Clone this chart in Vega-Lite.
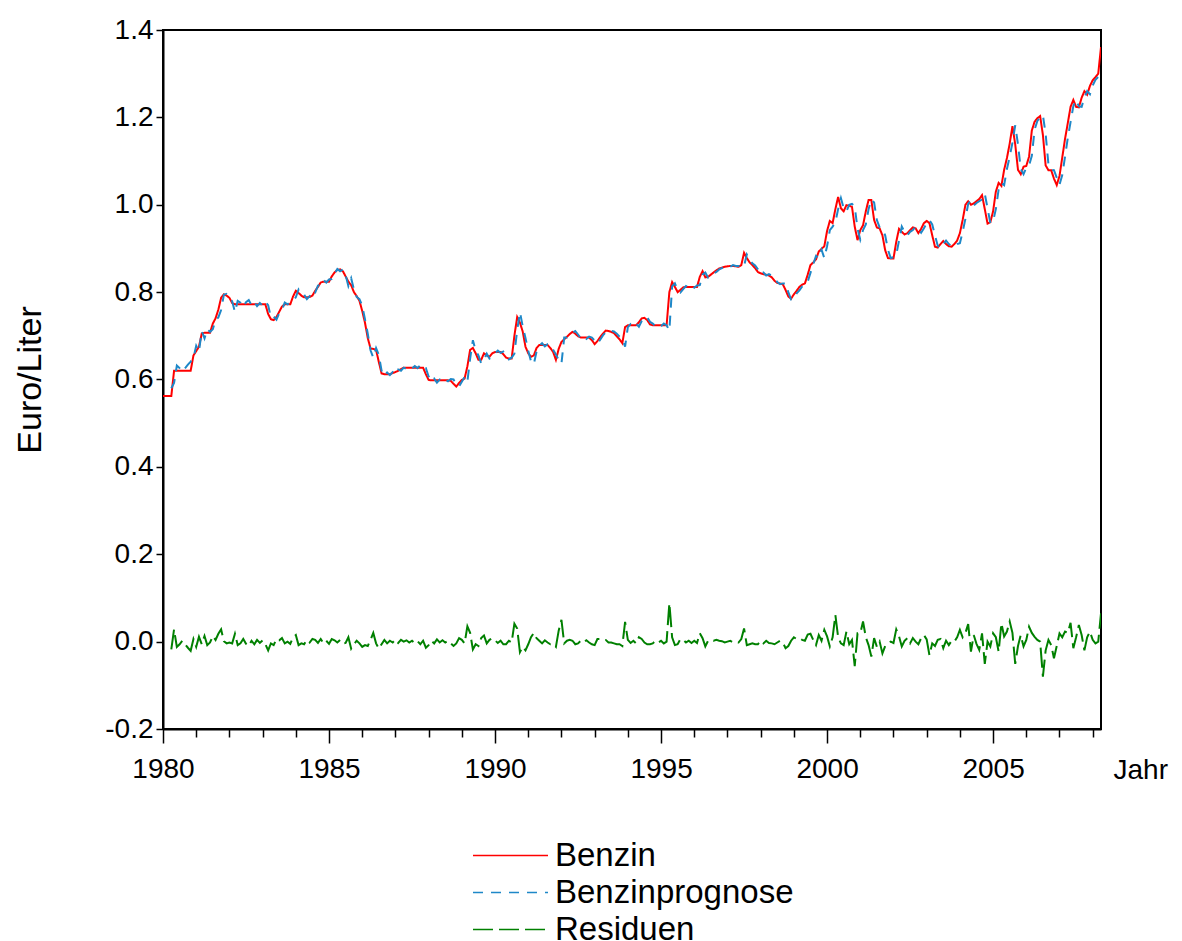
{
"$schema": "https://vega.github.io/schema/vega-lite/v6.json",
"width": 938, "height": 699,
"autosize": {"type": "none"},
"padding": {"left": 163, "top": 30, "right": 81, "bottom": 212},
"background": "white",
"config": {
 "font": "Liberation Sans",
 "view": {"stroke": "black", "strokeWidth": 2},
 "axis": {"grid": false, "domainColor": "black", "domainWidth": 2, "tickColor": "black", "labelColor": "black", "titleColor": "black", "labelFont": "Liberation Sans", "titleFont": "Liberation Sans", "labelFontSize": 28, "titleFontSize": 28, "titleFontWeight": "normal"}
},
"data": {"values": [
{"t":1980.000,"Benzin":0.562},
{"t":1980.083,"Benzin":0.562},
{"t":1980.167,"Benzin":0.562},
{"t":1980.250,"Benzin":0.562,"Benzinprognose":0.580,"Residuen":-0.018},
{"t":1980.333,"Benzin":0.620,"Benzinprognose":0.592,"Residuen":0.028},
{"t":1980.417,"Benzin":0.620,"Benzinprognose":0.632,"Residuen":-0.012},
{"t":1980.500,"Benzin":0.620,"Benzinprognose":0.626,"Residuen":-0.006},
{"t":1980.583,"Benzin":0.620,"Benzinprognose":0.618,"Residuen":0.002},
{"t":1980.667,"Benzin":0.620,"Benzinprognose":0.626,"Residuen":-0.006},
{"t":1980.750,"Benzin":0.620,"Benzinprognose":0.634,"Residuen":-0.014},
{"t":1980.833,"Benzin":0.620,"Benzinprognose":0.641,"Residuen":-0.021},
{"t":1980.917,"Benzin":0.655,"Benzinprognose":0.649,"Residuen":0.006},
{"t":1981.000,"Benzin":0.665,"Benzinprognose":0.677,"Residuen":-0.012},
{"t":1981.083,"Benzin":0.675,"Benzinprognose":0.664,"Residuen":0.011},
{"t":1981.167,"Benzin":0.705,"Benzinprognose":0.711,"Residuen":-0.006},
{"t":1981.250,"Benzin":0.707,"Benzinprognose":0.694,"Residuen":0.013},
{"t":1981.333,"Benzin":0.707,"Benzinprognose":0.715,"Residuen":-0.008},
{"t":1981.417,"Benzin":0.707,"Benzinprognose":0.709,"Residuen":-0.002},
{"t":1981.500,"Benzin":0.728,"Benzinprognose":0.715,"Residuen":0.013},
{"t":1981.583,"Benzin":0.740,"Benzinprognose":0.736,"Residuen":0.004},
{"t":1981.667,"Benzin":0.760,"Benzinprognose":0.742,"Residuen":0.018},
{"t":1981.750,"Benzin":0.787,"Benzinprognose":0.759,"Residuen":0.028},
{"t":1981.833,"Benzin":0.795,"Benzinprognose":0.794,"Residuen":0.001},
{"t":1981.917,"Benzin":0.792,"Benzinprognose":0.796,"Residuen":-0.004},
{"t":1982.000,"Benzin":0.787,"Benzinprognose":0.789,"Residuen":-0.002},
{"t":1982.083,"Benzin":0.775,"Benzinprognose":0.779,"Residuen":-0.004},
{"t":1982.167,"Benzin":0.772,"Benzinprognose":0.754,"Residuen":0.018},
{"t":1982.250,"Benzin":0.772,"Benzinprognose":0.780,"Residuen":-0.008},
{"t":1982.333,"Benzin":0.772,"Benzinprognose":0.776,"Residuen":-0.004},
{"t":1982.417,"Benzin":0.772,"Benzinprognose":0.766,"Residuen":0.006},
{"t":1982.500,"Benzin":0.772,"Benzinprognose":0.777,"Residuen":-0.005},
{"t":1982.583,"Benzin":0.772,"Benzinprognose":0.782,"Residuen":-0.010},
{"t":1982.667,"Benzin":0.772,"Benzinprognose":0.770,"Residuen":0.002},
{"t":1982.750,"Benzin":0.772,"Benzinprognose":0.778,"Residuen":-0.006},
{"t":1982.833,"Benzin":0.772,"Benzinprognose":0.768,"Residuen":0.004},
{"t":1982.917,"Benzin":0.772,"Benzinprognose":0.775,"Residuen":-0.003},
{"t":1983.000,"Benzin":0.772,"Benzinprognose":0.769,"Residuen":0.003},
{"t":1983.083,"Benzin":0.772,"Benzinprognose":0.778,"Residuen":-0.006},
{"t":1983.167,"Benzin":0.750,"Benzinprognose":0.770,"Residuen":-0.020},
{"t":1983.250,"Benzin":0.738,"Benzinprognose":0.742,"Residuen":-0.004},
{"t":1983.333,"Benzin":0.736,"Benzinprognose":0.744,"Residuen":-0.008},
{"t":1983.417,"Benzin":0.743,"Benzinprognose":0.737,"Residuen":0.006},
{"t":1983.500,"Benzin":0.755,"Benzinprognose":0.752,"Residuen":0.003},
{"t":1983.583,"Benzin":0.767,"Benzinprognose":0.759,"Residuen":0.008},
{"t":1983.667,"Benzin":0.772,"Benzinprognose":0.776,"Residuen":-0.004},
{"t":1983.750,"Benzin":0.772,"Benzinprognose":0.772,"Residuen":0.000},
{"t":1983.833,"Benzin":0.772,"Benzinprognose":0.777,"Residuen":-0.005},
{"t":1983.917,"Benzin":0.790,"Benzinprognose":0.780,"Residuen":0.010},
{"t":1984.000,"Benzin":0.803,"Benzinprognose":0.788,"Residuen":0.015},
{"t":1984.083,"Benzin":0.798,"Benzinprognose":0.806,"Residuen":-0.008},
{"t":1984.167,"Benzin":0.792,"Benzinprognose":0.796,"Residuen":-0.004},
{"t":1984.250,"Benzin":0.788,"Benzinprognose":0.794,"Residuen":-0.006},
{"t":1984.333,"Benzin":0.788,"Benzinprognose":0.784,"Residuen":0.004},
{"t":1984.417,"Benzin":0.789,"Benzinprognose":0.791,"Residuen":-0.002},
{"t":1984.500,"Benzin":0.792,"Benzinprognose":0.786,"Residuen":0.006},
{"t":1984.583,"Benzin":0.803,"Benzinprognose":0.799,"Residuen":0.004},
{"t":1984.667,"Benzin":0.812,"Benzinprognose":0.815,"Residuen":-0.003},
{"t":1984.750,"Benzin":0.822,"Benzinprognose":0.816,"Residuen":0.006},
{"t":1984.833,"Benzin":0.824,"Benzinprognose":0.828,"Residuen":-0.004},
{"t":1984.917,"Benzin":0.824,"Benzinprognose":0.822,"Residuen":0.002},
{"t":1985.000,"Benzin":0.824,"Benzinprognose":0.829,"Residuen":-0.005},
{"t":1985.083,"Benzin":0.836,"Benzinprognose":0.830,"Residuen":0.006},
{"t":1985.167,"Benzin":0.845,"Benzinprognose":0.842,"Residuen":0.003},
{"t":1985.250,"Benzin":0.851,"Benzinprognose":0.853,"Residuen":-0.002},
{"t":1985.333,"Benzin":0.852,"Benzinprognose":0.848,"Residuen":0.004},
{"t":1985.417,"Benzin":0.848,"Benzinprognose":0.852,"Residuen":-0.004},
{"t":1985.500,"Benzin":0.836,"Benzinprognose":0.839,"Residuen":-0.003},
{"t":1985.583,"Benzin":0.824,"Benzinprognose":0.814,"Residuen":0.010},
{"t":1985.667,"Benzin":0.816,"Benzinprognose":0.832,"Residuen":-0.016},
{"t":1985.750,"Benzin":0.800,"Benzinprognose":0.806,"Residuen":-0.006},
{"t":1985.833,"Benzin":0.791,"Benzinprognose":0.789,"Residuen":0.002},
{"t":1985.917,"Benzin":0.780,"Benzinprognose":0.784,"Residuen":-0.004},
{"t":1986.000,"Benzin":0.757,"Benzinprognose":0.769,"Residuen":-0.012},
{"t":1986.083,"Benzin":0.730,"Benzinprognose":0.738,"Residuen":-0.008},
{"t":1986.167,"Benzin":0.695,"Benzinprognose":0.705,"Residuen":-0.010},
{"t":1986.250,"Benzin":0.671,"Benzinprognose":0.667,"Residuen":0.004},
{"t":1986.333,"Benzin":0.670,"Benzinprognose":0.650,"Residuen":0.020},
{"t":1986.417,"Benzin":0.668,"Benzinprognose":0.672,"Residuen":-0.004},
{"t":1986.500,"Benzin":0.640,"Benzinprognose":0.656,"Residuen":-0.016},
{"t":1986.583,"Benzin":0.614,"Benzinprognose":0.620,"Residuen":-0.006},
{"t":1986.667,"Benzin":0.612,"Benzinprognose":0.608,"Residuen":0.004},
{"t":1986.750,"Benzin":0.612,"Benzinprognose":0.616,"Residuen":-0.004},
{"t":1986.833,"Benzin":0.612,"Benzinprognose":0.610,"Residuen":0.002},
{"t":1986.917,"Benzin":0.615,"Benzinprognose":0.617,"Residuen":-0.002},
{"t":1987.000,"Benzin":0.617,"Benzinprognose":0.612,"Residuen":0.005},
{"t":1987.083,"Benzin":0.620,"Benzinprognose":0.623,"Residuen":-0.003},
{"t":1987.167,"Benzin":0.624,"Benzinprognose":0.620,"Residuen":0.004},
{"t":1987.250,"Benzin":0.627,"Benzinprognose":0.627,"Residuen":0.000},
{"t":1987.333,"Benzin":0.627,"Benzinprognose":0.624,"Residuen":0.003},
{"t":1987.417,"Benzin":0.627,"Benzinprognose":0.629,"Residuen":-0.002},
{"t":1987.500,"Benzin":0.627,"Benzinprognose":0.625,"Residuen":0.002},
{"t":1987.583,"Benzin":0.627,"Benzinprognose":0.631,"Residuen":-0.004},
{"t":1987.667,"Benzin":0.627,"Benzinprognose":0.626,"Residuen":0.001},
{"t":1987.750,"Benzin":0.627,"Benzinprognose":0.633,"Residuen":-0.006},
{"t":1987.833,"Benzin":0.627,"Benzinprognose":0.625,"Residuen":0.002},
{"t":1987.917,"Benzin":0.612,"Benzinprognose":0.626,"Residuen":-0.014},
{"t":1988.000,"Benzin":0.599,"Benzinprognose":0.607,"Residuen":-0.008},
{"t":1988.083,"Benzin":0.598,"Benzinprognose":0.596,"Residuen":0.002},
{"t":1988.167,"Benzin":0.598,"Benzinprognose":0.602,"Residuen":-0.004},
{"t":1988.250,"Benzin":0.598,"Benzinprognose":0.593,"Residuen":0.005},
{"t":1988.333,"Benzin":0.598,"Benzinprognose":0.600,"Residuen":-0.002},
{"t":1988.417,"Benzin":0.598,"Benzinprognose":0.595,"Residuen":0.003},
{"t":1988.500,"Benzin":0.598,"Benzinprognose":0.600,"Residuen":-0.002},
{"t":1988.583,"Benzin":0.598,"Benzinprognose":0.596,"Residuen":0.002},
{"t":1988.667,"Benzin":0.597,"Benzinprognose":0.601,"Residuen":-0.004},
{"t":1988.750,"Benzin":0.590,"Benzinprognose":0.600,"Residuen":-0.010},
{"t":1988.833,"Benzin":0.584,"Benzinprognose":0.588,"Residuen":-0.004},
{"t":1988.917,"Benzin":0.592,"Benzinprognose":0.584,"Residuen":0.008},
{"t":1989.000,"Benzin":0.599,"Benzinprognose":0.595,"Residuen":0.004},
{"t":1989.083,"Benzin":0.602,"Benzinprognose":0.606,"Residuen":-0.004},
{"t":1989.167,"Benzin":0.630,"Benzinprognose":0.595,"Residuen":0.035},
{"t":1989.250,"Benzin":0.668,"Benzinprognose":0.648,"Residuen":0.020},
{"t":1989.333,"Benzin":0.672,"Benzinprognose":0.690,"Residuen":-0.018},
{"t":1989.417,"Benzin":0.660,"Benzinprognose":0.666,"Residuen":-0.006},
{"t":1989.500,"Benzin":0.645,"Benzinprognose":0.655,"Residuen":-0.010},
{"t":1989.583,"Benzin":0.645,"Benzinprognose":0.637,"Residuen":0.008},
{"t":1989.667,"Benzin":0.660,"Benzinprognose":0.646,"Residuen":0.014},
{"t":1989.750,"Benzin":0.655,"Benzinprognose":0.659,"Residuen":-0.004},
{"t":1989.833,"Benzin":0.652,"Benzinprognose":0.648,"Residuen":0.004},
{"t":1989.917,"Benzin":0.660,"Benzinprognose":0.652,"Residuen":0.008},
{"t":1990.000,"Benzin":0.663,"Benzinprognose":0.660,"Residuen":0.003},
{"t":1990.083,"Benzin":0.663,"Benzinprognose":0.666,"Residuen":-0.003},
{"t":1990.167,"Benzin":0.663,"Benzinprognose":0.661,"Residuen":0.002},
{"t":1990.250,"Benzin":0.658,"Benzinprognose":0.664,"Residuen":-0.006},
{"t":1990.333,"Benzin":0.650,"Benzinprognose":0.656,"Residuen":-0.006},
{"t":1990.417,"Benzin":0.648,"Benzinprognose":0.646,"Residuen":0.002},
{"t":1990.500,"Benzin":0.648,"Benzinprognose":0.650,"Residuen":-0.002},
{"t":1990.583,"Benzin":0.700,"Benzinprognose":0.659,"Residuen":0.041},
{"t":1990.667,"Benzin":0.743,"Benzinprognose":0.713,"Residuen":0.030},
{"t":1990.750,"Benzin":0.730,"Benzinprognose":0.754,"Residuen":-0.024},
{"t":1990.833,"Benzin":0.710,"Benzinprognose":0.722,"Residuen":-0.012},
{"t":1990.917,"Benzin":0.675,"Benzinprognose":0.695,"Residuen":-0.020},
{"t":1991.000,"Benzin":0.660,"Benzinprognose":0.666,"Residuen":-0.006},
{"t":1991.083,"Benzin":0.652,"Benzinprognose":0.642,"Residuen":0.010},
{"t":1991.167,"Benzin":0.655,"Benzinprognose":0.635,"Residuen":0.020},
{"t":1991.250,"Benzin":0.672,"Benzinprognose":0.664,"Residuen":0.008},
{"t":1991.333,"Benzin":0.679,"Benzinprognose":0.677,"Residuen":0.002},
{"t":1991.417,"Benzin":0.679,"Benzinprognose":0.683,"Residuen":-0.004},
{"t":1991.500,"Benzin":0.679,"Benzinprognose":0.676,"Residuen":0.003},
{"t":1991.583,"Benzin":0.679,"Benzinprognose":0.681,"Residuen":-0.002},
{"t":1991.667,"Benzin":0.672,"Benzinprognose":0.678,"Residuen":-0.006},
{"t":1991.750,"Benzin":0.663,"Benzinprognose":0.668,"Residuen":-0.005},
{"t":1991.833,"Benzin":0.645,"Benzinprognose":0.657,"Residuen":-0.012},
{"t":1991.917,"Benzin":0.670,"Benzinprognose":0.645,"Residuen":0.025},
{"t":1992.000,"Benzin":0.686,"Benzinprognose":0.636,"Residuen":0.050},
{"t":1992.083,"Benzin":0.692,"Benzinprognose":0.696,"Residuen":-0.004},
{"t":1992.167,"Benzin":0.698,"Benzinprognose":0.696,"Residuen":0.002},
{"t":1992.250,"Benzin":0.704,"Benzinprognose":0.700,"Residuen":0.004},
{"t":1992.333,"Benzin":0.709,"Benzinprognose":0.707,"Residuen":0.002},
{"t":1992.417,"Benzin":0.705,"Benzinprognose":0.711,"Residuen":-0.006},
{"t":1992.500,"Benzin":0.699,"Benzinprognose":0.703,"Residuen":-0.004},
{"t":1992.583,"Benzin":0.696,"Benzinprognose":0.694,"Residuen":0.002},
{"t":1992.667,"Benzin":0.696,"Benzinprognose":0.698,"Residuen":-0.002},
{"t":1992.750,"Benzin":0.696,"Benzinprognose":0.693,"Residuen":0.003},
{"t":1992.833,"Benzin":0.696,"Benzinprognose":0.698,"Residuen":-0.002},
{"t":1992.917,"Benzin":0.690,"Benzinprognose":0.696,"Residuen":-0.006},
{"t":1993.000,"Benzin":0.681,"Benzinprognose":0.689,"Residuen":-0.008},
{"t":1993.083,"Benzin":0.688,"Benzinprognose":0.682,"Residuen":0.006},
{"t":1993.167,"Benzin":0.697,"Benzinprognose":0.691,"Residuen":0.006},
{"t":1993.250,"Benzin":0.705,"Benzinprognose":0.701,"Residuen":0.004},
{"t":1993.333,"Benzin":0.712,"Benzinprognose":0.708,"Residuen":0.004},
{"t":1993.417,"Benzin":0.711,"Benzinprognose":0.713,"Residuen":-0.002},
{"t":1993.500,"Benzin":0.709,"Benzinprognose":0.711,"Residuen":-0.002},
{"t":1993.583,"Benzin":0.706,"Benzinprognose":0.710,"Residuen":-0.004},
{"t":1993.667,"Benzin":0.699,"Benzinprognose":0.705,"Residuen":-0.006},
{"t":1993.750,"Benzin":0.692,"Benzinprognose":0.698,"Residuen":-0.006},
{"t":1993.833,"Benzin":0.683,"Benzinprognose":0.693,"Residuen":-0.010},
{"t":1993.917,"Benzin":0.720,"Benzinprognose":0.675,"Residuen":0.045},
{"t":1994.000,"Benzin":0.724,"Benzinprognose":0.720,"Residuen":0.004},
{"t":1994.083,"Benzin":0.724,"Benzinprognose":0.727,"Residuen":-0.003},
{"t":1994.167,"Benzin":0.724,"Benzinprognose":0.722,"Residuen":0.002},
{"t":1994.250,"Benzin":0.724,"Benzinprognose":0.728,"Residuen":-0.004},
{"t":1994.333,"Benzin":0.731,"Benzinprognose":0.721,"Residuen":0.010},
{"t":1994.417,"Benzin":0.740,"Benzinprognose":0.734,"Residuen":0.006},
{"t":1994.500,"Benzin":0.741,"Benzinprognose":0.743,"Residuen":-0.002},
{"t":1994.583,"Benzin":0.736,"Benzinprognose":0.742,"Residuen":-0.006},
{"t":1994.667,"Benzin":0.726,"Benzinprognose":0.732,"Residuen":-0.006},
{"t":1994.750,"Benzin":0.724,"Benzinprognose":0.728,"Residuen":-0.004},
{"t":1994.833,"Benzin":0.724,"Benzinprognose":0.722,"Residuen":0.002},
{"t":1994.917,"Benzin":0.724,"Benzinprognose":0.726,"Residuen":-0.002},
{"t":1995.000,"Benzin":0.724,"Benzinprognose":0.722,"Residuen":0.002},
{"t":1995.083,"Benzin":0.724,"Benzinprognose":0.728,"Residuen":-0.004},
{"t":1995.167,"Benzin":0.724,"Benzinprognose":0.724,"Residuen":0.000},
{"t":1995.250,"Benzin":0.800,"Benzinprognose":0.712,"Residuen":0.088},
{"t":1995.333,"Benzin":0.823,"Benzinprognose":0.813,"Residuen":0.010},
{"t":1995.417,"Benzin":0.812,"Benzinprognose":0.820,"Residuen":-0.008},
{"t":1995.500,"Benzin":0.800,"Benzinprognose":0.806,"Residuen":-0.006},
{"t":1995.583,"Benzin":0.805,"Benzinprognose":0.799,"Residuen":0.006},
{"t":1995.667,"Benzin":0.811,"Benzinprognose":0.807,"Residuen":0.004},
{"t":1995.750,"Benzin":0.812,"Benzinprognose":0.814,"Residuen":-0.002},
{"t":1995.833,"Benzin":0.812,"Benzinprognose":0.810,"Residuen":0.002},
{"t":1995.917,"Benzin":0.812,"Benzinprognose":0.815,"Residuen":-0.003},
{"t":1996.000,"Benzin":0.812,"Benzinprognose":0.810,"Residuen":0.002},
{"t":1996.083,"Benzin":0.812,"Benzinprognose":0.815,"Residuen":-0.003},
{"t":1996.167,"Benzin":0.835,"Benzinprognose":0.816,"Residuen":0.019},
{"t":1996.250,"Benzin":0.848,"Benzinprognose":0.840,"Residuen":0.008},
{"t":1996.333,"Benzin":0.834,"Benzinprognose":0.845,"Residuen":-0.011},
{"t":1996.417,"Benzin":0.835,"Benzinprognose":0.833,"Residuen":0.002},
{"t":1996.500,"Benzin":0.840,"Benzinprognose":0.836,"Residuen":0.004},
{"t":1996.583,"Benzin":0.845,"Benzinprognose":0.843,"Residuen":0.002},
{"t":1996.667,"Benzin":0.850,"Benzinprognose":0.846,"Residuen":0.004},
{"t":1996.750,"Benzin":0.854,"Benzinprognose":0.852,"Residuen":0.002},
{"t":1996.833,"Benzin":0.856,"Benzinprognose":0.855,"Residuen":0.001},
{"t":1996.917,"Benzin":0.858,"Benzinprognose":0.860,"Residuen":-0.002},
{"t":1997.000,"Benzin":0.859,"Benzinprognose":0.859,"Residuen":0.000},
{"t":1997.083,"Benzin":0.860,"Benzinprognose":0.858,"Residuen":0.002},
{"t":1997.167,"Benzin":0.860,"Benzinprognose":0.862,"Residuen":-0.002},
{"t":1997.250,"Benzin":0.859,"Benzinprognose":0.860,"Residuen":-0.001},
{"t":1997.333,"Benzin":0.858,"Benzinprognose":0.860,"Residuen":-0.002},
{"t":1997.417,"Benzin":0.862,"Benzinprognose":0.856,"Residuen":0.006},
{"t":1997.500,"Benzin":0.890,"Benzinprognose":0.860,"Residuen":0.030},
{"t":1997.583,"Benzin":0.878,"Benzinprognose":0.886,"Residuen":-0.008},
{"t":1997.667,"Benzin":0.868,"Benzinprognose":0.874,"Residuen":-0.006},
{"t":1997.750,"Benzin":0.862,"Benzinprognose":0.866,"Residuen":-0.004},
{"t":1997.833,"Benzin":0.855,"Benzinprognose":0.861,"Residuen":-0.006},
{"t":1997.917,"Benzin":0.846,"Benzinprognose":0.852,"Residuen":-0.006},
{"t":1998.000,"Benzin":0.843,"Benzinprognose":0.841,"Residuen":0.002},
{"t":1998.083,"Benzin":0.841,"Benzinprognose":0.845,"Residuen":-0.004},
{"t":1998.167,"Benzin":0.840,"Benzinprognose":0.838,"Residuen":0.002},
{"t":1998.250,"Benzin":0.838,"Benzinprognose":0.841,"Residuen":-0.003},
{"t":1998.333,"Benzin":0.834,"Benzinprognose":0.838,"Residuen":-0.004},
{"t":1998.417,"Benzin":0.826,"Benzinprognose":0.832,"Residuen":-0.006},
{"t":1998.500,"Benzin":0.821,"Benzinprognose":0.823,"Residuen":-0.002},
{"t":1998.583,"Benzin":0.820,"Benzinprognose":0.818,"Residuen":0.002},
{"t":1998.667,"Benzin":0.818,"Benzinprognose":0.820,"Residuen":-0.002},
{"t":1998.750,"Benzin":0.805,"Benzinprognose":0.820,"Residuen":-0.015},
{"t":1998.833,"Benzin":0.790,"Benzinprognose":0.800,"Residuen":-0.010},
{"t":1998.917,"Benzin":0.785,"Benzinprognose":0.783,"Residuen":0.002},
{"t":1999.000,"Benzin":0.795,"Benzinprognose":0.785,"Residuen":0.010},
{"t":1999.083,"Benzin":0.803,"Benzinprognose":0.797,"Residuen":0.006},
{"t":1999.167,"Benzin":0.812,"Benzinprognose":0.804,"Residuen":0.008},
{"t":1999.250,"Benzin":0.817,"Benzinprognose":0.813,"Residuen":0.004},
{"t":1999.333,"Benzin":0.820,"Benzinprognose":0.818,"Residuen":0.002},
{"t":1999.417,"Benzin":0.840,"Benzinprognose":0.824,"Residuen":0.016},
{"t":1999.500,"Benzin":0.862,"Benzinprognose":0.844,"Residuen":0.018},
{"t":1999.583,"Benzin":0.868,"Benzinprognose":0.864,"Residuen":0.004},
{"t":1999.667,"Benzin":0.875,"Benzinprognose":0.883,"Residuen":-0.008},
{"t":1999.750,"Benzin":0.893,"Benzinprognose":0.878,"Residuen":0.015},
{"t":1999.833,"Benzin":0.899,"Benzinprognose":0.897,"Residuen":0.002},
{"t":1999.917,"Benzin":0.905,"Benzinprognose":0.878,"Residuen":0.027},
{"t":2000.000,"Benzin":0.940,"Benzinprognose":0.905,"Residuen":0.012},
{"t":2000.083,"Benzin":0.963,"Benzinprognose":0.942,"Residuen":-0.011},
{"t":2000.167,"Benzin":0.958,"Benzinprognose":0.950,"Residuen":0.010},
{"t":2000.250,"Benzin":0.990,"Benzinprognose":0.960,"Residuen":0.061},
{"t":2000.333,"Benzin":1.018,"Benzinprognose":0.990,"Residuen":0.010},
{"t":2000.417,"Benzin":0.992,"Benzinprognose":1.015,"Residuen":-0.004},
{"t":2000.500,"Benzin":0.985,"Benzinprognose":0.992,"Residuen":-0.008},
{"t":2000.583,"Benzin":0.999,"Benzinprognose":0.985,"Residuen":0.023},
{"t":2000.667,"Benzin":0.998,"Benzinprognose":1.000,"Residuen":-0.006},
{"t":2000.750,"Benzin":0.995,"Benzinprognose":1.002,"Residuen":0.004},
{"t":2000.833,"Benzin":0.950,"Benzinprognose":0.996,"Residuen":-0.056},
{"t":2000.917,"Benzin":0.919,"Benzinprognose":0.945,"Residuen":0.019},
{"t":2001.000,"Benzin":0.942,"Benzinprognose":0.920,"Residuen":0.019},
{"t":2001.083,"Benzin":0.953,"Benzinprognose":0.942,"Residuen":0.046},
{"t":2001.167,"Benzin":0.985,"Benzinprognose":0.955,"Residuen":0.010},
{"t":2001.250,"Benzin":1.011,"Benzinprognose":0.990,"Residuen":-0.008},
{"t":2001.333,"Benzin":1.011,"Benzinprognose":1.012,"Residuen":-0.034},
{"t":2001.417,"Benzin":0.965,"Benzinprognose":1.005,"Residuen":0.008},
{"t":2001.500,"Benzin":0.948,"Benzinprognose":0.965,"Residuen":-0.012},
{"t":2001.583,"Benzin":0.946,"Benzinprognose":0.948,"Residuen":0.000},
{"t":2001.667,"Benzin":0.930,"Benzinprognose":0.946,"Residuen":-0.027},
{"t":2001.750,"Benzin":0.896,"Benzinprognose":0.930,"Residuen":-0.010},
{"t":2001.833,"Benzin":0.878,"Benzinprognose":0.897,"Residuen":-0.004},
{"t":2001.917,"Benzin":0.877,"Benzinprognose":0.878,"Residuen":0.000},
{"t":2002.000,"Benzin":0.877,"Benzinprognose":0.880,"Residuen":-0.003},
{"t":2002.083,"Benzin":0.915,"Benzinprognose":0.885,"Residuen":0.028},
{"t":2002.167,"Benzin":0.945,"Benzinprognose":0.918,"Residuen":0.012},
{"t":2002.250,"Benzin":0.938,"Benzinprognose":0.950,"Residuen":-0.011},
{"t":2002.333,"Benzin":0.932,"Benzinprognose":0.938,"Residuen":0.002},
{"t":2002.417,"Benzin":0.935,"Benzinprognose":0.930,"Residuen":0.008},
{"t":2002.500,"Benzin":0.942,"Benzinprognose":0.938,"Residuen":-0.004},
{"t":2002.583,"Benzin":0.948,"Benzinprognose":0.942,"Residuen":0.008},
{"t":2002.667,"Benzin":0.946,"Benzinprognose":0.950,"Residuen":0.000},
{"t":2002.750,"Benzin":0.935,"Benzinprognose":0.945,"Residuen":-0.006},
{"t":2002.833,"Benzin":0.945,"Benzinprognose":0.936,"Residuen":0.008},
{"t":2002.917,"Benzin":0.958,"Benzinprognose":0.946,"Residuen":0.015},
{"t":2003.000,"Benzin":0.963,"Benzinprognose":0.958,"Residuen":0.005},
{"t":2003.083,"Benzin":0.958,"Benzinprognose":0.965,"Residuen":-0.031},
{"t":2003.167,"Benzin":0.930,"Benzinprognose":0.955,"Residuen":-0.004},
{"t":2003.250,"Benzin":0.904,"Benzinprognose":0.930,"Residuen":-0.010},
{"t":2003.333,"Benzin":0.902,"Benzinprognose":0.906,"Residuen":0.004},
{"t":2003.417,"Benzin":0.910,"Benzinprognose":0.900,"Residuen":0.006},
{"t":2003.500,"Benzin":0.917,"Benzinprognose":0.910,"Residuen":-0.015},
{"t":2003.583,"Benzin":0.910,"Benzinprognose":0.918,"Residuen":0.002},
{"t":2003.667,"Benzin":0.905,"Benzinprognose":0.910,"Residuen":-0.008},
{"t":2003.750,"Benzin":0.904,"Benzinprognose":0.905,"Residuen":0.002},
{"t":2003.833,"Benzin":0.910,"Benzinprognose":0.904,"Residuen":0.000},
{"t":2003.917,"Benzin":0.918,"Benzinprognose":0.910,"Residuen":0.010},
{"t":2004.000,"Benzin":0.935,"Benzinprognose":0.912,"Residuen":0.027},
{"t":2004.083,"Benzin":0.965,"Benzinprognose":0.938,"Residuen":0.010},
{"t":2004.167,"Benzin":1.000,"Benzinprognose":0.968,"Residuen":0.020},
{"t":2004.250,"Benzin":1.008,"Benzinprognose":1.002,"Residuen":0.040},
{"t":2004.333,"Benzin":1.000,"Benzinprognose":1.010,"Residuen":-0.023},
{"t":2004.417,"Benzin":1.003,"Benzinprognose":0.998,"Residuen":0.015},
{"t":2004.500,"Benzin":1.008,"Benzinprognose":1.004,"Residuen":-0.005},
{"t":2004.583,"Benzin":1.013,"Benzinprognose":1.008,"Residuen":-0.019},
{"t":2004.667,"Benzin":1.022,"Benzinprognose":1.012,"Residuen":0.019},
{"t":2004.750,"Benzin":0.990,"Benzinprognose":1.025,"Residuen":-0.051},
{"t":2004.833,"Benzin":0.957,"Benzinprognose":0.992,"Residuen":0.000},
{"t":2004.917,"Benzin":0.960,"Benzinprognose":0.958,"Residuen":-0.011},
{"t":2005.000,"Benzin":0.985,"Benzinprognose":0.962,"Residuen":0.019},
{"t":2005.083,"Benzin":1.030,"Benzinprognose":0.990,"Residuen":0.010},
{"t":2005.167,"Benzin":1.050,"Benzinprognose":1.035,"Residuen":-0.023},
{"t":2005.250,"Benzin":1.043,"Benzinprognose":1.050,"Residuen":0.042},
{"t":2005.333,"Benzin":1.080,"Benzinprognose":1.045,"Residuen":0.012},
{"t":2005.417,"Benzin":1.107,"Benzinprognose":1.082,"Residuen":0.023},
{"t":2005.500,"Benzin":1.140,"Benzinprognose":1.110,"Residuen":0.046},
{"t":2005.583,"Benzin":1.180,"Benzinprognose":1.142,"Residuen":0.020},
{"t":2005.667,"Benzin":1.138,"Benzinprognose":1.182,"Residuen":-0.051},
{"t":2005.750,"Benzin":1.080,"Benzinprognose":1.138,"Residuen":-0.010},
{"t":2005.833,"Benzin":1.070,"Benzinprognose":1.082,"Residuen":0.015},
{"t":2005.917,"Benzin":1.087,"Benzinprognose":1.070,"Residuen":-0.011},
{"t":2006.000,"Benzin":1.089,"Benzinprognose":1.085,"Residuen":0.004},
{"t":2006.083,"Benzin":1.110,"Benzinprognose":1.090,"Residuen":0.034},
{"t":2006.167,"Benzin":1.170,"Benzinprognose":1.112,"Residuen":0.020},
{"t":2006.250,"Benzin":1.190,"Benzinprognose":1.172,"Residuen":0.011},
{"t":2006.333,"Benzin":1.198,"Benzinprognose":1.192,"Residuen":0.004},
{"t":2006.417,"Benzin":1.203,"Benzinprognose":1.200,"Residuen":0.000},
{"t":2006.500,"Benzin":1.160,"Benzinprognose":1.205,"Residuen":-0.080},
{"t":2006.583,"Benzin":1.090,"Benzinprognose":1.162,"Residuen":-0.020},
{"t":2006.667,"Benzin":1.079,"Benzinprognose":1.092,"Residuen":0.004},
{"t":2006.750,"Benzin":1.079,"Benzinprognose":1.080,"Residuen":-0.008},
{"t":2006.833,"Benzin":1.060,"Benzinprognose":1.079,"Residuen":-0.038},
{"t":2006.917,"Benzin":1.045,"Benzinprognose":1.062,"Residuen":-0.010},
{"t":2007.000,"Benzin":1.066,"Benzinprognose":1.046,"Residuen":0.019},
{"t":2007.083,"Benzin":1.108,"Benzinprognose":1.068,"Residuen":0.010},
{"t":2007.167,"Benzin":1.151,"Benzinprognose":1.110,"Residuen":0.023},
{"t":2007.250,"Benzin":1.187,"Benzinprognose":1.153,"Residuen":0.020},
{"t":2007.333,"Benzin":1.224,"Benzinprognose":1.189,"Residuen":0.043},
{"t":2007.417,"Benzin":1.240,"Benzinprognose":1.226,"Residuen":-0.015},
{"t":2007.500,"Benzin":1.224,"Benzinprognose":1.240,"Residuen":0.010},
{"t":2007.583,"Benzin":1.223,"Benzinprognose":1.225,"Residuen":0.038},
{"t":2007.667,"Benzin":1.245,"Benzinprognose":1.224,"Residuen":0.015},
{"t":2007.750,"Benzin":1.260,"Benzinprognose":1.246,"Residuen":-0.020},
{"t":2007.833,"Benzin":1.252,"Benzinprognose":1.260,"Residuen":0.010},
{"t":2007.917,"Benzin":1.272,"Benzinprognose":1.253,"Residuen":0.023},
{"t":2008.000,"Benzin":1.285,"Benzinprognose":1.273,"Residuen":0.004},
{"t":2008.083,"Benzin":1.292,"Benzinprognose":1.286,"Residuen":-0.004},
{"t":2008.167,"Benzin":1.300,"Benzinprognose":1.293,"Residuen":0.000},
{"t":2008.250,"Benzin":1.361,"Benzinprognose":1.300,"Residuen":0.065}
]},
"transform": [{"fold": ["Benzin", "Benzinprognose", "Residuen"], "as": ["series", "value"]}],
"mark": {"type": "line", "strokeWidth": 2, "clip": true},
"encoding": {
 "x": {"field": "t", "type": "quantitative",
  "scale": {"domain": [1980, 2008.25], "nice": false, "zero": false},
  "axis": {"values": [1980,1981,1982,1983,1984,1985,1986,1987,1988,1989,1990,1991,1992,1993,1994,1995,1996,1997,1998,1999,2000,2001,2002,2003,2004,2005,2006,2007,2008],
   "labelExpr": "datum.value % 5 === 0 ? format(datum.value, 'd') : ''",
   "tickSize": {"condition": {"test": "datum.value % 5 === 0", "value": 14}, "value": 8},
   "tickWidth": 1.5, "labelPadding": 12, "labelFlush": false, "labelOverlap": false,
   "title": "Jahr", "titleX": 950, "titleY": 41, "titleAlign": "left", "titleBaseline": "middle", "titleAngle": 0}},
 "y": {"field": "value", "type": "quantitative",
  "scale": {"domain": [-0.2, 1.4], "nice": false, "zero": false},
  "axis": {"values": [-0.2, 0, 0.2, 0.4, 0.6, 0.8, 1, 1.2, 1.4],
   "labelExpr": "datum.value < -0.01 ? '-' + format(-datum.value, '.1f') : format(abs(datum.value), '.1f')",
   "tickSize": 7, "tickWidth": 1.5, "labelPadding": 3, "labelFlush": false,
   "title": "Euro/Liter", "titleFontSize": 34, "titleX": -133, "titleY": 349.5, "titleAngle": -90, "titleAlign": "center", "titleBaseline": "middle"}},
 "color": {"field": "series", "type": "nominal",
  "scale": {"domain": ["Benzin", "Benzinprognose", "Residuen"], "range": ["#FF0000", "#1E88C8", "#008000"]},
  "legend": {"title": null, "orient": "none", "legendX": 331, "legendY": 809, "direction": "vertical", "symbolType": "M-15,0H15", "symbolSize": 25, "symbolStrokeWidth": 1.5, "labelFontSize": 33, "labelFont": "Liberation Sans", "labelColor": "black", "labelOffset": 28, "labelLimit": 500, "rowPadding": 3}},
 "strokeDash": {"field": "series", "type": "nominal",
  "scale": {"domain": ["Benzin", "Benzinprognose", "Residuen"], "range": [[1, 0], [10, 8], [20, 6]]},
  "legend": {"title": null, "orient": "none", "legendX": 331, "legendY": 809, "direction": "vertical", "symbolType": "M-15,0H15", "symbolSize": 25, "symbolStrokeWidth": 1.5, "labelFontSize": 33, "labelFont": "Liberation Sans", "labelColor": "black", "labelOffset": 28, "labelLimit": 500, "rowPadding": 3}}
}
}
